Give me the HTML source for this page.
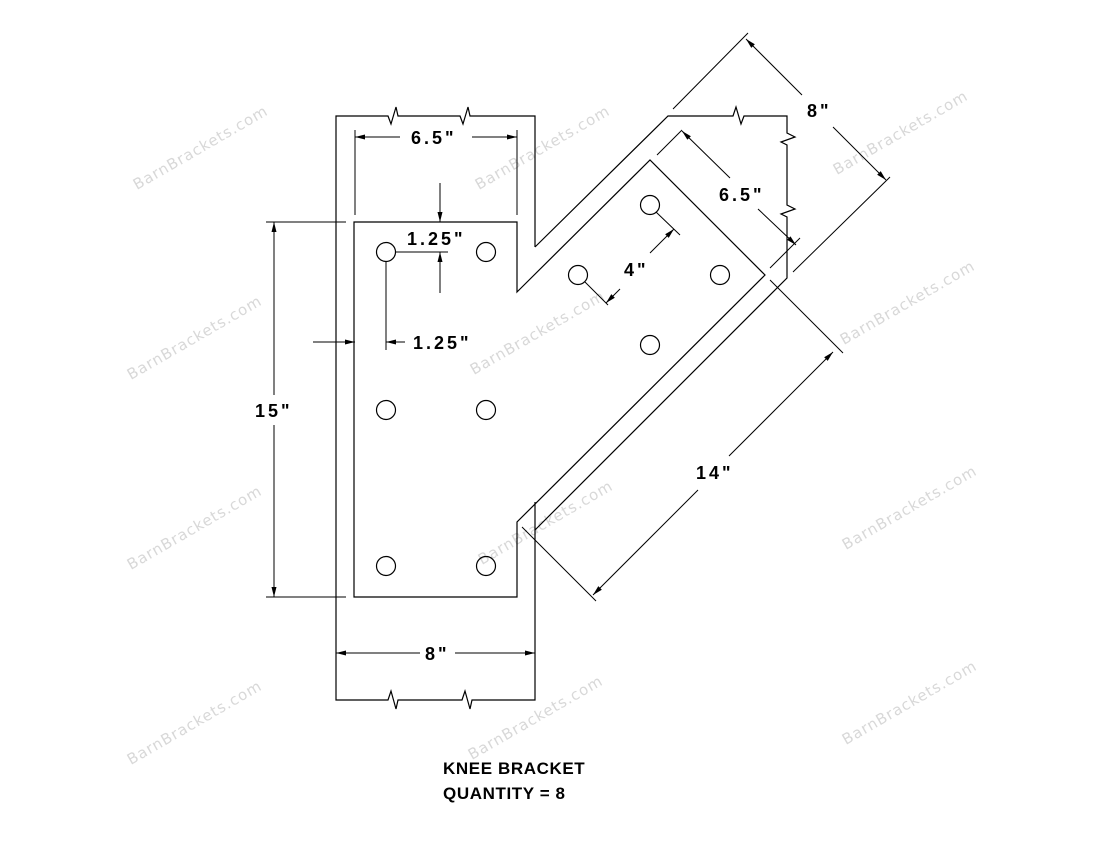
<!DOCTYPE html>
<html><head><meta charset="utf-8"><style>
html,body{margin:0;padding:0;background:#fff;}
svg{display:block}
.d{font-family:"Liberation Sans",Arial,sans-serif;font-weight:bold;font-size:18px;fill:#000;letter-spacing:3px}
.w{font-family:"DejaVu Sans","Liberation Sans",sans-serif;font-size:15px;fill:#d8d8d8;letter-spacing:1px}
.t{font-family:"Liberation Sans",Arial,sans-serif;font-weight:bold;font-size:17px;fill:#000;letter-spacing:0.6px}
</style></head><body>
<svg width="1100" height="850" viewBox="0 0 1100 850" xmlns="http://www.w3.org/2000/svg">
<defs>
<marker id="a" viewBox="0 0 10 5" refX="10" refY="2.5" markerWidth="10" markerHeight="5" markerUnits="userSpaceOnUse" orient="auto"><path d="M0,0 L10,2.5 L0,5 Z" fill="#000"/></marker>
</defs>
<g text-anchor="middle">
<text class="w" transform="translate(203,152) rotate(-30)">BarnBrackets.com</text>
<text class="w" transform="translate(197,342) rotate(-30)">BarnBrackets.com</text>
<text class="w" transform="translate(197,532) rotate(-30)">BarnBrackets.com</text>
<text class="w" transform="translate(197,727) rotate(-30)">BarnBrackets.com</text>
<text class="w" transform="translate(545,152) rotate(-30)">BarnBrackets.com</text>
<text class="w" transform="translate(540,337) rotate(-30)">BarnBrackets.com</text>
<text class="w" transform="translate(548,527) rotate(-30)">BarnBrackets.com</text>
<text class="w" transform="translate(538,722) rotate(-30)">BarnBrackets.com</text>
<text class="w" transform="translate(903,137) rotate(-30)">BarnBrackets.com</text>
<text class="w" transform="translate(910,307) rotate(-30)">BarnBrackets.com</text>
<text class="w" transform="translate(912,512) rotate(-30)">BarnBrackets.com</text>
<text class="w" transform="translate(912,707) rotate(-30)">BarnBrackets.com</text>
</g>
<g stroke="#000" stroke-width="1.2" fill="none">
<path d="M535,247 L535,116 L470,116 L468,107 L463,124 L460,116 L398,116 L396,107 L391,124 L388,116 L336,116 L336,700 L388,700 L391,691 L396,709 L398,700 L462,700 L465,691 L470,709 L472,700 L535,700 L535,502"/>
<path d="M535,247 L668,116 L733,116 L736,107 L741,124 L744,116 L787,116 L787,133 L795,137 L781,142 L787,145 L787,205 L795,209 L781,214 L787,217 L787,278 L535,530"/>
<path d="M517,292 L650,160 L765,275 L517,522 L517,597 L354,597 L354,222 L517,222 Z"/>
<circle cx="386" cy="252" r="9.5"/><circle cx="486" cy="252" r="9.5"/>
<circle cx="386" cy="410" r="9.5"/><circle cx="486" cy="410" r="9.5"/>
<circle cx="386" cy="566" r="9.5"/><circle cx="486" cy="566" r="9.5"/>
<circle cx="650" cy="205" r="9.5"/><circle cx="578" cy="275" r="9.5"/>
<circle cx="720" cy="275" r="9.5"/><circle cx="650" cy="345" r="9.5"/>
</g>
<g stroke="#000" stroke-width="1" fill="none">
<line x1="266" y1="222" x2="346" y2="222"/><line x1="266" y1="597" x2="346" y2="597"/>
<line x1="274" y1="395" x2="274" y2="222" marker-end="url(#a)"/>
<line x1="274" y1="425" x2="274" y2="597" marker-end="url(#a)"/>
<line x1="355" y1="130" x2="355" y2="215"/><line x1="517" y1="130" x2="517" y2="215"/>
<line x1="400" y1="137" x2="355" y2="137" marker-end="url(#a)"/>
<line x1="472" y1="137" x2="517" y2="137" marker-end="url(#a)"/>
<line x1="440" y1="183" x2="440" y2="222" marker-end="url(#a)"/>
<line x1="440" y1="293" x2="440" y2="252" marker-end="url(#a)"/>
<line x1="396" y1="252" x2="448" y2="252"/>
<line x1="313" y1="342" x2="355" y2="342" marker-end="url(#a)"/>
<line x1="405" y1="342" x2="386" y2="342" marker-end="url(#a)"/>
<line x1="386" y1="262" x2="386" y2="350"/>
<line x1="420" y1="653" x2="336" y2="653" marker-end="url(#a)"/>
<line x1="455" y1="653" x2="535" y2="653" marker-end="url(#a)"/>
<line x1="522" y1="527" x2="596" y2="601"/>
<line x1="770" y1="280" x2="843" y2="353"/>
<line x1="698" y1="490" x2="593" y2="595" marker-end="url(#a)"/>
<line x1="729" y1="456" x2="833" y2="352" marker-end="url(#a)"/>
<line x1="673" y1="109" x2="748" y2="33"/>
<line x1="793" y1="272" x2="890" y2="177"/>
<line x1="802" y1="95" x2="746" y2="39" marker-end="url(#a)"/>
<line x1="833" y1="127" x2="886" y2="180" marker-end="url(#a)"/>
<line x1="657" y1="155" x2="682" y2="130"/>
<line x1="770" y1="268" x2="800" y2="238"/>
<line x1="730" y1="178" x2="682" y2="131" marker-end="url(#a)"/>
<line x1="758" y1="209" x2="796" y2="245" marker-end="url(#a)"/>
<line x1="656" y1="212" x2="680" y2="235"/>
<line x1="585" y1="282" x2="608" y2="305"/>
<line x1="650" y1="253" x2="674" y2="229" marker-end="url(#a)"/>
<line x1="620" y1="289" x2="606" y2="303" marker-end="url(#a)"/>
</g>
<g class="d">
<text x="411" y="144">6.5"</text>
<text x="407" y="245">1.25"</text>
<text x="413" y="349">1.25"</text>
<text x="255" y="417">15"</text>
<text x="425" y="660">8"</text>
<text x="719" y="201">6.5"</text>
<text x="807" y="117">8"</text>
<text x="624" y="276">4"</text>
<text x="696" y="479">14"</text>
</g>
<text class="t" x="443" y="774">KNEE BRACKET</text>
<text class="t" x="443" y="799">QUANTITY = 8</text>
</svg>
</body></html>
